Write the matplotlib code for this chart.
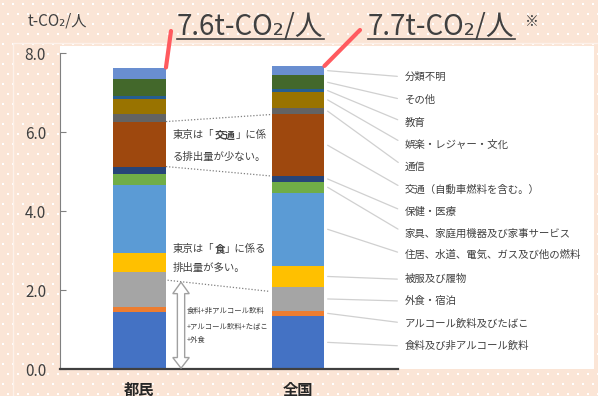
import numpy as np
import matplotlib.pyplot as plt
from matplotlib.patches import Rectangle, Polygon
from matplotlib.lines import Line2D
from matplotlib.transforms import IdentityTransform

plt.rcParams['font.family'] = ['Noto Sans CJK JP', 'DejaVu Sans']

# 消費支出分類別の一人当たりCO2排出量（下から積み上げ順）
categories = ['食料及び非アルコール飲料', 'アルコール飲料及びたばこ', '外食・宿泊', '被服及び履物',
              '住居、水道、電気、ガス及び他の燃料', '家具、家庭用機器及び家事サービス', '保健・医療',
              '交通（自動車燃料を含む。）', '通信', '娯楽・レジャー・文化', '教育', 'その他', '分類不明']
groups = ['都民', '全国']
tomin = [1.45, 0.13, 0.87, 0.50, 1.71, 0.28, 0.19, 1.14, 0.19, 0.38, 0.09, 0.41, 0.30]
zenkoku = [1.35, 0.12, 0.61, 0.53, 1.86, 0.27, 0.15, 1.56, 0.17, 0.40, 0.07, 0.35, 0.24]
total_labels = ['7.6t-CO₂/人', '7.7t-CO₂/人']
yticks = [0, 2, 4, 6, 8]

colors = ['#4472C4', '#ED7D31', '#A5A5A5', '#FFC000', '#5B9BD5', '#70AD47', '#264478',
          '#9E480E', '#636363', '#997300', '#255E91', '#43682B', '#698ED0']
# 凡例ラベルの縦位置（データ座標）
label_y = [0.58, 1.16, 1.72, 2.27, 2.90, 3.44, 3.98, 4.55, 5.11, 5.69, 6.24, 6.81, 7.40]

TEXT = '#404040'
W, H = 598, 396
fig = plt.figure(figsize=(W / 100, H / 100), dpi=100)
fig.patch.set_facecolor('#FBE5D6')

# 背景のドット模様と白いプロットエリア
bg = fig.add_axes([0, 0, 1, 1])
bg.set_xlim(0, W)
bg.set_ylim(H, 0)
bg.axis('off')
gx, gy = np.meshgrid(np.arange(3, W, 10.0), np.arange(4, H, 10.0))
gx[1::2] += 5
bg.scatter(gx.ravel(), gy.ravel(), s=1.3, c='white', marker='s', linewidths=0)
bg.add_patch(Rectangle((13, 43), W, H, fc='none', ec='#FDF1EA', lw=1))
bg.add_patch(Rectangle((60, 46), 534, 323, fc='white', ec='none'))

ax = fig.add_axes([60 / W, (H - 369) / H, (398 - 60) / W, (369 - 53.3) / H])
ax.patch.set_alpha(0)

x = np.arange(len(groups))
width = 0.334
data = np.array([tomin, zenkoku])
cum = np.cumsum(data, axis=1)
bottoms = np.zeros(len(groups))
for i, cat in enumerate(categories):
    ax.bar(x, data[:, i], width, bottom=bottoms, color=colors[i], linewidth=0, label=cat)
    bottoms += data[:, i]

ax.set_xlim(-0.5016, 1.631)
ax.set_ylim(0, 8)
ax.set_yticks(yticks, [f'{v:.1f}' for v in yticks])
ax.tick_params(axis='y', direction='in', length=4, color='#808080', labelcolor=TEXT,
               labelsize=11, pad=10)
ax.set_xticks(x, groups)
ax.tick_params(axis='x', length=0, labelsize=11, pad=9, labelcolor='#262626')
for lab in ax.get_xticklabels():
    lab.set_fontweight('bold')
for s in ['top', 'right']:
    ax.spines[s].set_visible(False)
ax.spines['left'].set_color('#808080')
ax.spines['bottom'].set_color('#404040')
ax.spines['bottom'].set_linewidth(1.6)

# 全国の棒から分類名への引き出し線
x_right = x[1] + width / 2
mids = cum[1] - data[1] / 2
for cat, m, ly in zip(categories, mids, label_y):
    ax.annotate(cat, xy=(x_right + 0.02, m), xytext=(1.675, ly), textcoords='data',
                fontsize=7.5, color=TEXT, va='center', ha='left', annotation_clip=False,
                arrowprops=dict(arrowstyle='-', color='#D0D0D0', lw=0.9,
                                shrinkA=3.5, shrinkB=0, relpos=(0, 0.5)))

# 交通部分の比較（点線）
x_l, x_r = x[0] + width / 2, x[1] - width / 2
for k in (6, 7):
    ax.plot([x_l, x_r], [cum[0, k], cum[1, k]], ls=(0, (1, 1.5)), color='#808080', lw=0.9)


def rich_line(xp, yp, parts, size):
    # 太字を含む一行を左から順につなげて描く
    t = ax.text(xp, yp, parts[0][0], fontsize=size, fontweight=parts[0][1],
                color=TEXT, va='center', ha='left')
    for s, w in parts[1:]:
        t = ax.annotate(s, xy=(1, 0.5), xycoords=t, fontsize=size, fontweight=w,
                        color=TEXT, va='center', ha='left')


rich_line(0.211, 5.92, [('東京は「', 'normal'), ('交通', 'bold'), ('」に係', 'normal')], 7.5)
rich_line(0.211, 5.37, [('る排出量が少ない。', 'normal')], 7.5)
rich_line(0.211, 3.04, [('東京は「', 'normal'), ('食', 'bold'), ('」に係る', 'normal')], 7.5)
rich_line(0.211, 2.56, [('排出量が多い。', 'normal')], 7.5)

# 食関連の比較（点線と両矢印）
food_y = [2.25, 1.97]
ax.plot([x_l + 0.01, x_r - 0.02], food_y, ls=(0, (1, 1.5)), color='#808080', lw=0.9)
xc, yt = 0.262, 2.2
sw, hw, hl = 0.023, 0.052, 0.29
arrow = Polygon([(xc, yt), (xc + hw, yt - hl), (xc + sw, yt - hl), (xc + sw, hl),
                 (xc + hw, hl), (xc, 0.02), (xc - hw, hl), (xc - sw, hl),
                 (xc - sw, yt - hl), (xc - hw, yt - hl)],
                closed=True, fc='white', ec='#A0A0A0', lw=1, clip_on=False, zorder=3)
ax.add_patch(arrow)
for txt, yy in zip(['食料+非アルコール飲料', '+アルコール飲料+たばこ', '+外食'], [1.47, 1.07, 0.73]):
    ax.text(0.30, yy, txt, fontsize=5.3, color=TEXT, va='center', ha='left')

# 合計値の吹き出し
fig.text(28 / W, 1 - 26 / H, 't-CO₂/人', fontsize=11, color=TEXT, va='baseline')
label_pos = [(177, 171, 31), (368, 360, 30)]
red = '#FF5A5F'
tops = []
for i, (lbl, (tx, lx, ly)) in enumerate(zip(total_labels, label_pos)):
    ax.annotate('', xy=(x[i] + width / 2, cum[i, -1]), xycoords='data',
                xytext=(lx, H - ly), textcoords='figure pixels', annotation_clip=False,
                arrowprops=dict(arrowstyle='-', color=red, lw=3, shrinkA=0, shrinkB=0))
    tops.append(fig.text(tx / W, 1 - 35 / H, lbl, fontsize=20, color=TEXT, va='baseline'))
fig.text(525 / W, 1 - 22 / H, '※', fontsize=10, color=TEXT, va='center')

fig.canvas.draw()
for t in tops:
    bb = t.get_window_extent()
    fig.add_artist(Line2D([bb.x0, bb.x1], [H - 39, H - 39], transform=IdentityTransform(),
                          color=TEXT, lw=1.2))

fig.savefig('out.png', dpi=100)
